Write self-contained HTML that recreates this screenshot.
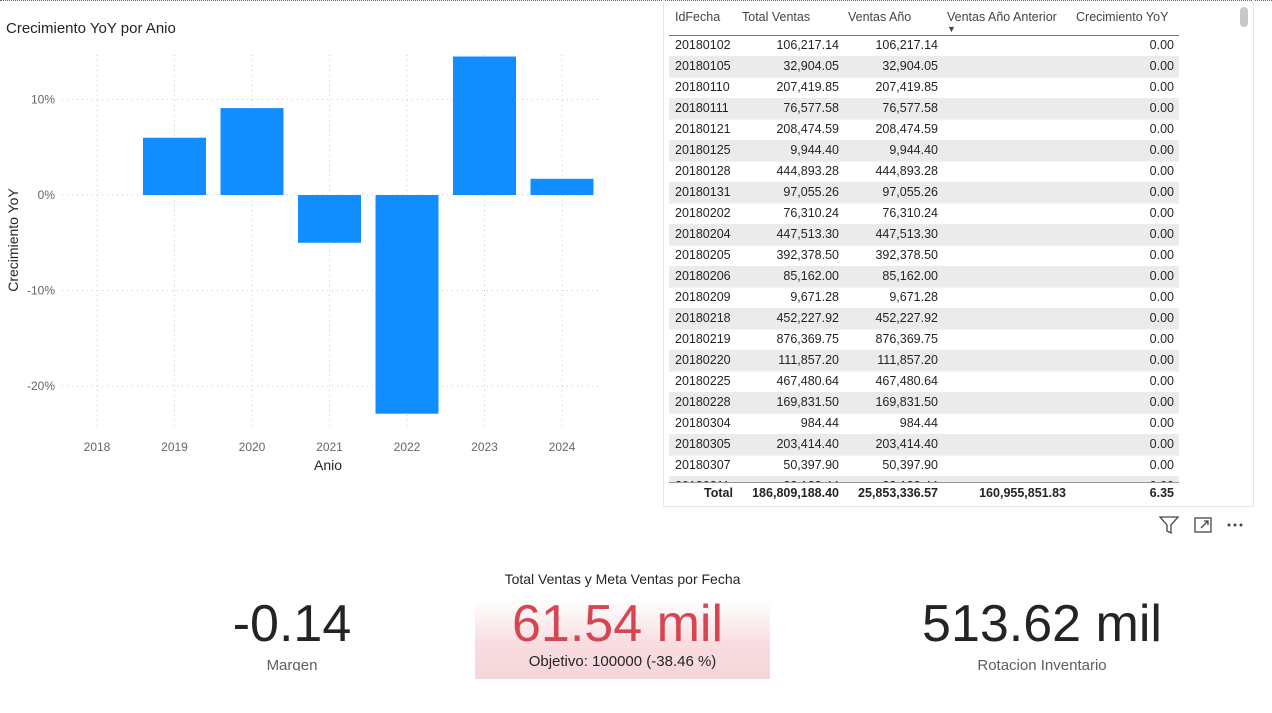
<!DOCTYPE html>
<html><head><meta charset="utf-8"><style>
body{margin:0;width:1272px;height:713px;background:#fff;font-family:"Liberation Sans",sans-serif;position:relative;overflow:hidden;color:#252423}
.abs{position:absolute}
#tbl{left:663px;top:0;width:591px;height:507px;border:1px solid #e6e6e6;border-top:none;box-sizing:border-box;overflow:hidden}
.row{position:absolute;left:5px;width:510px;height:21px;font-size:12.5px;line-height:21px}
.row span{position:absolute;top:0}
.kpi{position:absolute;text-align:center;font-size:52px;color:#252423}
.lab{position:absolute;text-align:center;font-size:15px;color:#605e5c}
</style></head><body>
<div class="abs" style="left:0;top:0;width:1272px;border-top:1px dotted #666"></div>
<div class="abs" style="left:6px;top:20px;font-size:15px">Crecimiento YoY por Anio</div>
<svg class="abs" style="left:0;top:0" width="640" height="500" id="chart"></svg>
<div id="tbl" class="abs"></div>
<div class="abs" style="left:1240px;top:7px;width:8px;height:20px;background:#c8c8c8;border-radius:4px"></div>
<svg class="abs" style="left:1158px;top:514px" width="100" height="22">
<path d="M2 3 H20 L13 11 V19 L9 17 V11 Z" fill="none" stroke="#444" stroke-width="1.3"/>
<g fill="none" stroke="#444" stroke-width="1.3"><rect x="37" y="4" width="16" height="14"/><path d="M43 14 L50 7 M46 7 H50 V11"/></g>
<g fill="#444"><circle cx="71" cy="11" r="1.5"/><circle cx="77" cy="11" r="1.5"/><circle cx="83" cy="11" r="1.5"/></g>
</svg>
<div class="kpi" style="left:142px;width:300px;top:594px">-0.14</div>
<div class="lab" style="left:142px;width:300px;top:657px;height:14px;overflow:hidden">Margen</div>
<div class="abs" style="left:475px;width:295px;top:571px;text-align:center;font-size:14px">Total Ventas y Meta Ventas por Fecha</div>
<div class="abs" style="left:475px;top:600px;width:295px;height:79px;background:linear-gradient(#fff 0%,#f8dde1 55%,#f6d5da 100%)"></div>
<div class="kpi" style="left:475px;width:285px;top:594px;color:#d64550">61.54 mil</div>
<div class="abs" style="left:475px;width:295px;top:653px;text-align:center;font-size:15px">Objetivo: 100000 (-38.46 %)</div>
<div class="kpi" style="left:892px;width:300px;top:594px">513.62 mil</div>
<div class="lab" style="left:892px;width:300px;top:657px">Rotacion Inventario</div>
<script>
const years=["2018","2019","2020","2021","2022","2023","2024"];
const growth=[null,6.0,9.1,-5.0,-22.9,14.5,1.7];
const yTicks=[10,0,-10,-20];
const ns="http://www.w3.org/2000/svg",svg=document.getElementById("chart");
const y=v=>195-v*9.55, x=i=>97+i*77.5;
function mk(t,a,txt){const e=document.createElementNS(ns,t);for(const k in a)e.setAttribute(k,a[k]);if(txt!=null)e.textContent=txt;svg.appendChild(e);return e;}
yTicks.forEach(v=>{const l=mk("line",{x1:62,x2:598,y1:y(v),y2:y(v),stroke:"#c8c8c8","stroke-dasharray":"1 4"});


const t=mk("text",{x:55,y:y(v)+4,"text-anchor":"end","font-size":12,fill:"#666"},v+"%");

});
years.forEach((yr,i)=>{const l=mk("line",{x1:x(i),x2:x(i),y1:55,y2:428,stroke:"#c8c8c8","stroke-dasharray":"1 4"});


const t=mk("text",{x:x(i),y:451,"text-anchor":"middle","font-size":12,fill:"#666"},yr);


const v=growth[i];if(v==null)return;
const r=mk("rect",{x:x(i)-31.5,width:63,y:Math.min(y(v),y(0)),height:Math.abs(y(v)-y(0)),fill:"#118dff"});

});
const xt=mk("text",{x:328,y:470,"text-anchor":"middle","font-size":14,fill:"#252423"},"Anio");


const yt=mk("text",{x:0,y:0,transform:"translate(18,240) rotate(-90)","text-anchor":"middle","font-size":14,fill:"#252423"},"Crecimiento YoY");



const ids=["20180102","20180105","20180110","20180111","20180121","20180125","20180128","20180131","20180202","20180204","20180205","20180206","20180209","20180218","20180219","20180220","20180225","20180228","20180304","20180305","20180307","20180311"];
const ventas=["106,217.14","32,904.05","207,419.85","76,577.58","208,474.59","9,944.40","444,893.28","97,055.26","76,310.24","447,513.30","392,378.50","85,162.00","9,671.28","452,227.92","876,369.75","111,857.20","467,480.64","169,831.50","984.44","203,414.40","50,397.90","23,133.44"];
const tbl=document.getElementById("tbl");
function cell(row,txt,style){const s=document.createElement("span");s.textContent=txt;s.setAttribute("style",style);row.appendChild(s);return s;}
const hdr=document.createElement("div");hdr.className="row";hdr.style.top="7px";hdr.style.color="#444";hdr.style.height="28px";hdr.style.borderBottom="1px solid #118dff";


cell(hdr,"IdFecha","left:6px");cell(hdr,"Total Ventas","left:73px");cell(hdr,"Ventas Año","left:179px");cell(hdr,"Ventas Año Anterior","left:278px");cell(hdr,"Crecimiento YoY","left:407px");
cell(hdr,"▼","left:278px;top:12px;font-size:9px");
tbl.appendChild(hdr);
ids.forEach((id,i)=>{const r=document.createElement("div");r.className="row";r.style.top=(35+i*21)+"px";if(i%2)r.style.background="#ebebeb";r.style.borderBottom="1px solid #f3f3f3";


cell(r,id,"left:6px");cell(r,ventas[i],"right:340px");cell(r,ventas[i],"right:241px");cell(r,"0.00","right:5px");tbl.appendChild(r);});
const tot=document.createElement("div");tot.className="row";tot.style.top="482px";tot.style.height="23px";tot.style.background="#fff";tot.style.fontWeight="bold";tot.style.borderTop="1px solid #999";


cell(tot,"Total","left:35px");cell(tot,"186,809,188.40","right:340px");cell(tot,"25,853,336.57","right:241px");cell(tot,"160,955,851.83","right:113px");cell(tot,"6.35","right:5px");tbl.appendChild(tot);
</script>
</body></html>
